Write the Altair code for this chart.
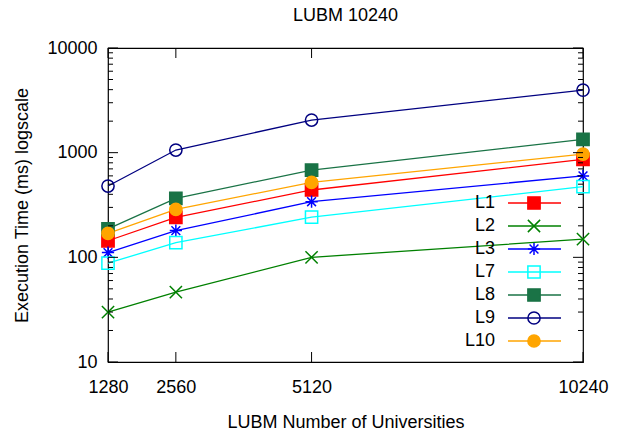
import altair as alt
import pandas as pd

# ---- data ----
universities = [1280, 2560, 5120, 10240]
series = ["L1", "L2", "L3", "L7", "L8", "L9", "L10"]
L1 = [144, 241, 440, 863]
L2 = [30, 46.5, 100, 149]
L3 = [111, 180, 340, 600]
L7 = [88, 138, 242, 473]
L8 = [187, 366, 682, 1340]
L9 = [480, 1060, 2050, 3960]
L10 = [169, 287, 520, 970]
values = [L1, L2, L3, L7, L8, L9, L10]

x_ticks = [1280, 2560, 5120, 10240]
y_major = [10, 100, 1000, 10000]
y_minor = [20, 30, 40, 50, 60, 70, 80, 90,
           200, 300, 400, 500, 600, 700, 800, 900,
           2000, 3000, 4000, 5000, 6000, 7000, 8000, 9000]

# ---- styles ----
X_PATH = "M-1,-1L1,1M-1,1L1,-1"
AST_PATH = "M-1,0L1,0M0,-1L0,1M-0.72,-0.72L0.72,0.72M-0.72,0.72L0.72,-0.72"
colors = ["#ff0000", "#008000", "#0000ff", "#00ffff", "#1a7346", "#000080", "#ffa500"]
fills = ["#ff0000", "transparent", "transparent", "transparent", "#1a7346", "transparent", "#ffa500"]
shapes = ["square", X_PATH, AST_PATH, "square", "square", "circle", "circle"]

FONT = "Liberation Sans"
W, H = 475, 314

rows = []
for name, vals in zip(series, values):
    for u, v in zip(universities, vals):
        rows.append({"series": name, "universities": u, "time": v})
df = pd.DataFrame(rows)

xscale = alt.Scale(domain=[1280, 10240], nice=False, zero=False)
yscale = alt.Scale(type="log", domain=[10, 10000], nice=False)

x_axis = alt.Axis(values=x_ticks, format="d", title="LUBM Number of Universities",
                  ticks=False, domain=False, grid=False, labelFlush=False, labelOverlap=False,
                  labelPadding=16, titleX=W / 2, titleY=65,
                  titleBaseline="alphabetic", titleAlign="center")
y_axis = alt.Axis(values=y_major, format="d", title="Execution Time (ms) logscale",
                  ticks=False, domain=False, grid=False, labelFlush=False, labelOverlap=False,
                  labelPadding=11, titleX=-86, titleY=H / 2, titleAngle=270,
                  titleBaseline="middle", titleAlign="center")

color_enc = alt.Color("series:N", scale=alt.Scale(domain=series, range=colors), legend=None)
stroke_enc = alt.Stroke("series:N", scale=alt.Scale(domain=series, range=colors), legend=None)
fill_enc = alt.Fill("series:N", scale=alt.Scale(domain=series, range=fills), legend=None)
shape_enc = alt.Shape("series:N", scale=alt.Scale(domain=series, range=shapes), legend=None)

lines = alt.Chart(df).mark_line(strokeWidth=1.3).encode(
    x=alt.X("universities:Q", scale=xscale, axis=x_axis),
    y=alt.Y("time:Q", scale=yscale, axis=y_axis),
    color=color_enc,
)

points = alt.Chart(df).mark_point(size=150, strokeWidth=1.5, opacity=1).encode(
    x=alt.X("universities:Q", scale=xscale, axis=x_axis),
    y=alt.Y("time:Q", scale=yscale, axis=None),
    shape=shape_enc,
    fill=fill_enc,
    stroke=stroke_enc,
)

xt = pd.DataFrame({"t": x_ticks})
ymaj = pd.DataFrame({"v": y_major})
ymin = pd.DataFrame({"v": y_minor})

def xtick(y0, y1):
    return alt.Chart(xt).mark_rule(color="black", strokeWidth=1).encode(
        x=alt.X("t:Q", scale=xscale, axis=x_axis), y=alt.value(y0), y2=alt.value(y1))

def ytick(d, x0, x1):
    return alt.Chart(d).mark_rule(color="black", strokeWidth=1).encode(
        y=alt.Y("v:Q", scale=yscale, axis=None), x=alt.value(x0), x2=alt.value(x1))

ticks = [
    xtick(H, H - 10), xtick(0, 10),
    ytick(ymaj, 0, 10), ytick(ymaj, W, W - 10),
    ytick(ymin, 0, 5), ytick(ymin, W, W - 5),
]

leg = pd.DataFrame({"series": series})
leg_y = alt.Y("series:N", scale=alt.Scale(type="point", domain=series, range=[155, 293], padding=0),
              axis=None)
leg_rule = alt.Chart(leg).mark_rule(strokeWidth=1.3).encode(
    y=leg_y, x=alt.value(400), x2=alt.value(453), color=color_enc)
leg_pts = alt.Chart(leg).mark_point(size=150, strokeWidth=1.5, opacity=1).encode(
    y=leg_y, x=alt.value(426), shape=shape_enc, fill=fill_enc, stroke=stroke_enc)
leg_text = alt.Chart(leg).mark_text(align="right", baseline="middle", fontSize=18,
                                    font=FONT, color="black").encode(
    y=leg_y, x=alt.value(387), text="series:N")

chart = alt.layer(lines, points, *ticks, leg_rule, leg_pts, leg_text).resolve_scale(
    y="independent"
).properties(
    width=W, height=H,
    title=alt.TitleParams("LUBM 10240", fontSize=18, font=FONT, fontWeight="normal",
                          anchor="middle", offset=14, color="black"),
    autosize=alt.AutoSizeParams(type="none"),
    padding={"left": 100, "top": 40, "right": 33, "bottom": 68},
).configure_axis(
    labelFont=FONT, labelFontSize=18, labelColor="black",
    titleFont=FONT, titleFontSize=18, titleFontWeight="normal", titleColor="black",
).configure_view(stroke="black", strokeWidth=1.2)

chart.save("out.html", embed_options={"renderer": "svg", "actions": False})
